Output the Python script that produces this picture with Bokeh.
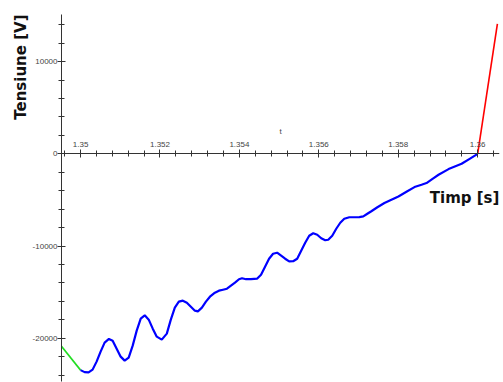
from bokeh.plotting import figure
from bokeh.models import (LinearAxis, SingleIntervalTicker, Range1d, Label,
                          CustomJSTickFormatter, Title)
from bokeh.embed import file_html
from bokeh.resources import INLINE

# ---- data ----
green_t = [1.34952, 1.35000]
green_v = [-20870, -23447]

blue_t = [1.350000, 1.350101, 1.350202, 1.350303, 1.350404, 1.350505, 1.350606,
          1.350715, 1.350808, 1.350909, 1.351010, 1.351111, 1.351212, 1.351313,
          1.351414, 1.351515, 1.351616, 1.351717, 1.351818, 1.351919, 1.352045,
          1.352172, 1.352273, 1.352374, 1.352475, 1.352576, 1.352677, 1.352778,
          1.352879, 1.352955, 1.353056, 1.353157, 1.353258, 1.353384, 1.353485,
          1.353586, 1.353687, 1.353788, 1.353889, 1.353990, 1.354066, 1.354167,
          1.354293, 1.354444, 1.354545, 1.354646, 1.354747, 1.354848, 1.354949,
          1.355051, 1.355152, 1.355253, 1.355354, 1.355455, 1.355556, 1.355657,
          1.355758, 1.355859, 1.355960, 1.356061, 1.356162, 1.356237, 1.356338,
          1.356439, 1.356540, 1.356641, 1.356768, 1.356894, 1.357020, 1.357121,
          1.357222, 1.357323, 1.357475, 1.357652, 1.357828, 1.358005, 1.358207,
          1.358409, 1.358586, 1.358712, 1.358864, 1.359015, 1.359268, 1.359596,
          1.359798, 1.360000]
blue_v = [-23447, -23664, -23696, -23393, -22526, -21443, -20469,
          -20068, -20252, -21119, -21985, -22418, -22093, -20794,
          -19169, -17870, -17512, -17978, -18953, -19819, -20144,
          -19494, -17978, -16678, -16028, -15920, -16137, -16570,
          -17003, -17079, -16678, -16028, -15487, -15054, -14837,
          -14729, -14621, -14296, -13971, -13592, -13483, -13592,
          -13592, -13538, -13104, -12238, -11372, -10830, -10722,
          -11047, -11372, -11664, -11642, -11372, -10505, -9639,
          -8881, -8610, -8772, -9151, -9368, -9314, -8881,
          -8123, -7473, -7040, -6877, -6877, -6855, -6790,
          -6498, -6227, -5794, -5339, -4982, -4624, -4115,
          -3606, -3357, -3173, -2708, -2274, -1657, -1083,
          -542, 0]

red_t = [1.36000, 1.360497]
red_v = [0, 14079]

x_label = "Timp [s]"
y_label = "Tensiune [V]"
t_label = "t"

AX = "#333333"
TICK_TXT = "#444444"

p = figure(width=503, height=382, output_backend="svg", toolbar_location=None,
           x_axis_location=None, y_axis_location=None,
           x_range=Range1d(1.34952, 1.36055), y_range=Range1d(-24680, 15100),
           min_border_left=61, min_border_right=4, min_border_top=14,
           min_border_bottom=1)
p.outline_line_color = None
p.xgrid.visible = False
p.ygrid.visible = False
p.background_fill_color = "white"

fmt = CustomJSTickFormatter(code="return String(parseFloat(tick.toFixed(6)));")

# y axis at left frame edge
yaxis = LinearAxis(ticker=SingleIntervalTicker(interval=10000, num_minor_ticks=5),
                   formatter=fmt)
yaxis.axis_line_color = AX
yaxis.major_tick_line_color = AX
yaxis.minor_tick_line_color = AX
yaxis.major_tick_in = 4
yaxis.major_tick_out = 4
yaxis.minor_tick_in = 3
yaxis.minor_tick_out = 3
yaxis.major_label_standoff = 0
yaxis.major_label_text_font = "Liberation Sans"
yaxis.major_label_text_font_size = "8px"
yaxis.major_label_text_color = TICK_TXT
p.add_layout(yaxis, "left")

# y axis title, aligned with the top of the plot
ytitle = Title(text=y_label, align="right", text_font="DejaVu Sans",
               text_font_style="bold", text_font_size="15px",
               text_color="#111111", standoff=0, offset=0)
p.add_layout(ytitle, "left")

# x axis crossing at V = 0, labels above
xaxis = LinearAxis(fixed_location=0,
                   ticker=SingleIntervalTicker(interval=0.002, num_minor_ticks=5),
                   formatter=fmt, axis_label=t_label)
xaxis.axis_line_color = AX
xaxis.major_tick_line_color = AX
xaxis.minor_tick_line_color = AX
xaxis.major_tick_in = 4
xaxis.major_tick_out = 4
xaxis.minor_tick_in = 3
xaxis.minor_tick_out = 3
xaxis.major_label_standoff = 3
xaxis.major_label_text_font = "Liberation Sans"
xaxis.major_label_text_font_size = "8px"
xaxis.major_label_text_color = TICK_TXT
xaxis.axis_label_text_font = "Liberation Sans"
xaxis.axis_label_text_font_size = "8px"
xaxis.axis_label_text_font_style = "normal"
xaxis.axis_label_text_color = TICK_TXT
xaxis.axis_label_standoff = 3
p.add_layout(xaxis, "above")

p.line(green_t, green_v, line_color="#22dd22", line_width=1.6)
p.line(blue_t, blue_v, line_color="#0000ff", line_width=2.2)
p.line(red_t, red_v, line_color="#ff0000", line_width=1.6)

p.add_layout(Label(x=1.359670, y=-4737, text=x_label, text_align="center",
                   text_baseline="middle", text_font="DejaVu Sans",
                   text_font_style="bold", text_font_size="15px",
                   text_color="#111111"))

open("out.html", "w").write(file_html(p, INLINE))
